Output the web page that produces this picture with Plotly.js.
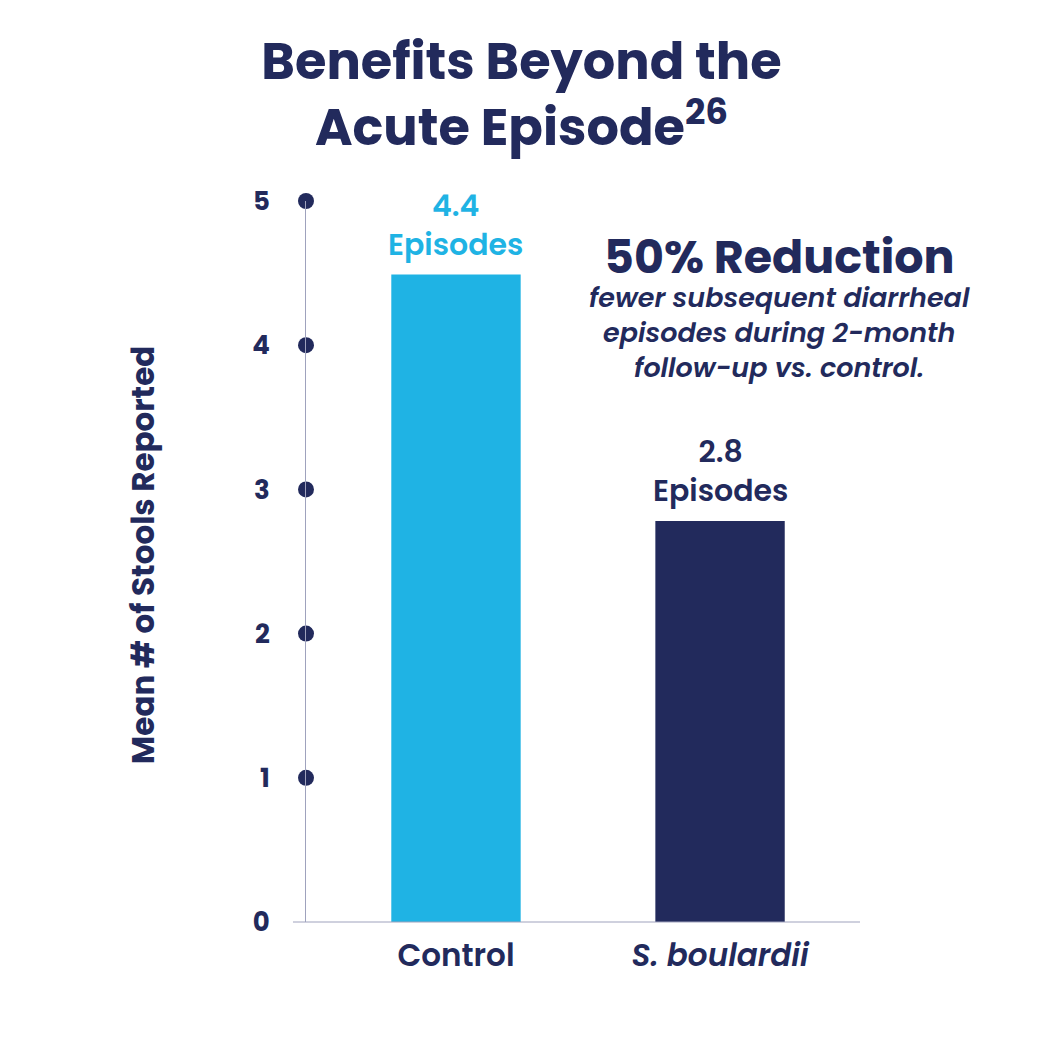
<!DOCTYPE html>
<html>
<head>
<meta charset="utf-8">
<script src="https://cdn.plot.ly/plotly-3.0.1.min.js"></script>
<style>html,body{margin:0;padding:0;background:#fff;}#chart{width:1043px;height:1042px;}</style>
</head>
<body>
<div id="chart"></div>
<script>
const categories = ['Control', '<i>S. boulardii</i>'];
const values = [4.49, 2.78];
const valueLabels = ['4.4<br>Episodes', '2.8<br>Episodes'];
const yTicks = [0, 1, 2, 3, 4, 5];
const dotTicks = [1, 2, 3, 4, 5];

const NAVY = '#222a5c';
const CYAN = '#1fb3e4';
const AXIS = '#9fa2bd';
const FONT = 'Poppins, Inter, "Noto Sans", sans-serif';
const barColors = [CYAN, NAVY];
const xs = categories.map((c, i) => i);
const XMIN = -0.568, XMAX = 1.53;

const traces = [
  {
    type: 'bar',
    x: xs,
    y: values,
    width: 0.49,
    marker: {color: barColors},
    hoverinfo: 'skip'
  },
  {
    type: 'scatter',
    mode: 'markers',
    x: dotTicks.map(() => XMIN),
    y: dotTicks,
    marker: {color: NAVY, size: 16},
    cliponaxis: false,
    hoverinfo: 'skip'
  }
];

const annotations = xs.map((x, i) => ({
  x: x, y: values[i], xref: 'x', yref: 'y',
  text: valueLabels[i], showarrow: false,
  yanchor: 'bottom', yshift: 7,
  font: {family: FONT, size: 30, color: barColors[i], weight: 600}
}));
annotations.push({
  xref: 'paper', yref: 'paper', x: 0.854, y: 0.922,
  text: '50% Reduction', showarrow: false, xanchor: 'center', yanchor: 'middle',
  font: {family: FONT, size: 46, color: NAVY, weight: 700}
});
annotations.push({
  xref: 'paper', yref: 'paper', x: 0.854, y: 0.817,
  text: '<i>fewer subsequent diarrheal<br>episodes during 2-month<br>follow-up vs. control.</i>',
  showarrow: false, xanchor: 'center', yanchor: 'middle',
  font: {family: FONT, size: 27, color: NAVY, weight: 600}
});
annotations.push({
  xref: 'paper', yref: 'paper', x: -0.294, y: 0.509,
  text: 'Mean # of Stools Reported', textangle: -90,
  showarrow: false, xanchor: 'center', yanchor: 'middle',
  font: {family: FONT, size: 31, color: NAVY, weight: 700}
});

const layout = {
  width: 1043, height: 1042,
  paper_bgcolor: '#fff', plot_bgcolor: '#fff',
  margin: {l: 306, r: 183, t: 201, b: 120},
  showlegend: false,
  title: {
    text: 'Benefits Beyond the<br>Acute Episode<sup>26</sup>',
    x: 0.5, xref: 'container', xanchor: 'center',
    y: 0.924, yref: 'container', yanchor: 'top',
    font: {family: FONT, size: 51, color: NAVY, weight: 700}
  },
  xaxis: {
    range: [XMIN, XMAX],
    tickvals: xs, ticktext: categories,
    showgrid: false, zeroline: false, showline: false,
    ticks: 'outside', ticklen: 6, tickcolor: 'rgba(0,0,0,0)',
    tickfont: {family: FONT, size: 31, color: NAVY, weight: 600},
    fixedrange: true
  },
  yaxis: {
    range: [0, 5],
    tickvals: yTicks,
    showgrid: false, zeroline: false,
    showline: true, linecolor: AXIS, linewidth: 1,
    ticks: 'outside', ticklen: 30, tickcolor: 'rgba(0,0,0,0)',
    tickfont: {family: FONT, size: 26, color: NAVY, weight: 700},
    fixedrange: true
  },
  shapes: [{
    type: 'line', xref: 'paper', yref: 'paper',
    x0: -0.0235, x1: 1, y0: 0, y1: 0,
    line: {color: AXIS, width: 1}
  }],
  annotations: annotations
};

Plotly.newPlot('chart', traces, layout, {displayModeBar: false, staticPlot: true});
</script>
</body>
</html>
